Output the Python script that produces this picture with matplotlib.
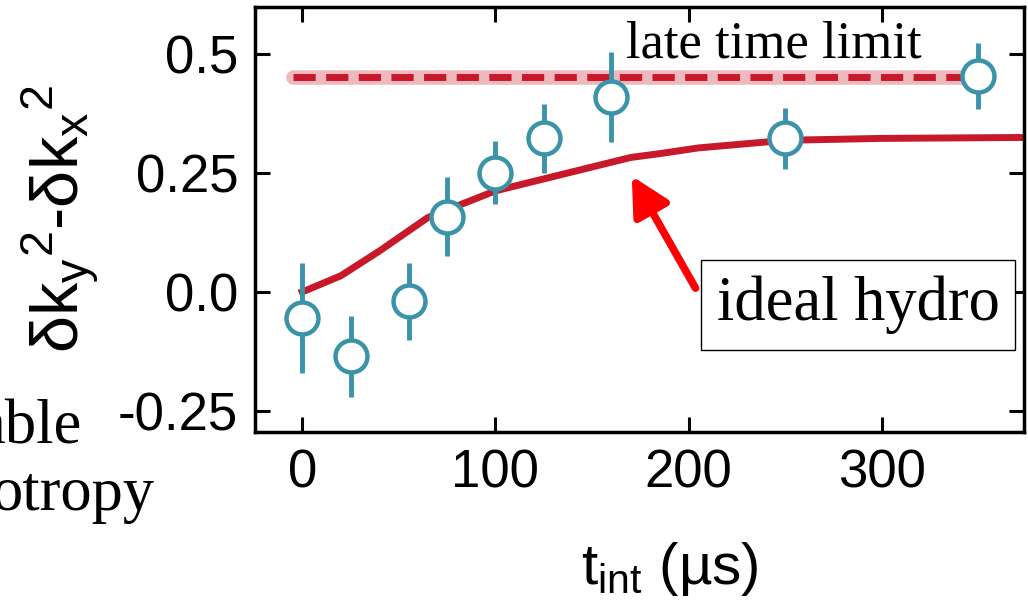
import numpy as np
import matplotlib
matplotlib.use("Agg")
from matplotlib import pyplot as plt

plt.rcParams['font.family'] = ['Liberation Sans', 'DejaVu Sans']
plt.rcParams['mathtext.fontset'] = 'custom'
plt.rcParams['mathtext.rm'] = 'Liberation Sans'
plt.rcParams['mathtext.it'] = 'Liberation Sans'
plt.rcParams['mathtext.sf'] = 'Liberation Sans'

# measured anisotropy vs interaction time
t_meas = [0, 25, 55, 75, 100, 125, 160, 250, 350]
aniso = [-0.055, -0.135, -0.020, 0.158, 0.250, 0.322, 0.409, 0.322, 0.453]
aniso_err = [0.115, 0.085, 0.080, 0.083, 0.066, 0.072, 0.095, 0.064, 0.069]

# ideal hydrodynamics prediction
t_hydro = [0, 20, 40, 65, 85, 100, 125, 150, 170, 185, 205, 250, 300, 375]
aniso_hydro = [0.0, 0.034, 0.086, 0.156, 0.188, 0.212, 0.237, 0.262, 0.282,
               0.290, 0.302, 0.318, 0.322, 0.324]

# late time limit and its uncertainty band
t_late = [-5, 350]
late_limit = 0.45

red = '#c8192a'
teal = '#3a93a8'
serif = ['Liberation Serif', 'DejaVu Serif']

fig = plt.figure(figsize=(10.28, 6.05), dpi=100)
ax = fig.add_axes([0.248, 0.2865, 0.748, 0.7015])

# late time limit: shaded band plus dashed line
ax.plot(t_late, [late_limit, late_limit], color=red, alpha=0.3, lw=10.5,
        solid_capstyle='round', zorder=1)
ax.plot(t_late, [late_limit, late_limit], color=red, lw=5,
        dashes=(3.2, 1.5), dash_capstyle='butt', zorder=2)

ax.plot(t_hydro, aniso_hydro, color=red, lw=5, zorder=2)

ax.errorbar(t_meas, aniso, yerr=aniso_err, fmt='o', color=teal, ms=23,
            mfc='white', mec=teal, mew=3.2, elinewidth=3.5, capsize=0,
            zorder=3)

ax.text(167.7, 0.491, 'late time limit', family=serif, fontsize=38,
        ha='left', va='baseline')

ax.text(287.7, -0.027, 'ideal hydro', family=serif, fontsize=45,
        ha='center', va='center',
        bbox=dict(boxstyle='square,pad=0.25', fc='white', ec='black', lw=1))
ax.annotate('', xy=(170.6, 0.243), xytext=(203.6, 0.008),
            arrowprops=dict(arrowstyle='-|>,head_length=2.3,head_width=1.2',
                            color='#ff0000', lw=5.5, mutation_scale=10,
                            shrinkA=0, shrinkB=0))

ax.set_xlim(-24.5, 373.6)
ax.set_ylim(-0.293, 0.597)
ax.set_xticks([0, 100, 200, 300])
ax.set_yticks([-0.25, 0.0, 0.25, 0.5])
ax.set_yticklabels(['-0.25', '0.0', '0.25', '0.5'])
ax.tick_params(direction='in', length=11, width=2.2, labelsize=38,
               top=True, right=True, pad=12)
for sp in ax.spines.values():
    sp.set_linewidth(2.5)

ax.set_xlabel(r'$\mathrm{t}_\mathrm{int}$ (µs)', fontsize=42)
ax.xaxis.set_label_coords(0.54, -0.255)
ax.set_ylabel(r'$\delta k_y{}^2$-$\delta k_x{}^2$', fontsize=48)
ax.yaxis.set_label_coords(-0.252, 0.5)
ax.yaxis.label.set_va('center')

# text cut off at the left edge
fig.text(82 / 1028, 1 - 443 / 605, 'able', family=serif, fontsize=45,
         ha='right', va='baseline')
fig.text(155 / 1028, 1 - 510 / 605, 'otropy', family=serif, fontsize=45,
         ha='right', va='baseline')

fig.savefig('out.png', dpi=100)
